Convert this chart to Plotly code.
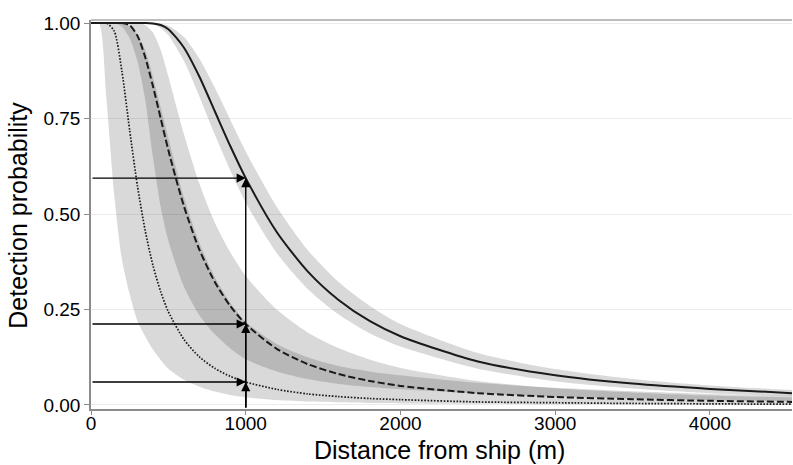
import plotly.graph_objects as go

# distance grid (m) used for every series
distance = [0, 50, 100, 150, 200, 250, 300, 350, 400, 450, 500, 600, 700, 800,
            900, 1000, 1200, 1400, 1600, 1800, 2000, 2500, 3000, 3500, 4000, 4530]

# solid curve + band
p_solid = [1, 1, 1, 1, 1, 1, 1, 1.0, 0.999, 0.995, 0.984, 0.936, 0.860, 0.769,
           0.678, 0.594, 0.453, 0.350, 0.275, 0.220, 0.180, 0.114, 0.078, 0.056, 0.042, 0.031]
lo_solid = [1, 1, 1, 1, 1, 1, 1, 0.999, 0.996, 0.987, 0.968, 0.901, 0.808, 0.708,
            0.614, 0.530, 0.398, 0.304, 0.237, 0.188, 0.153, 0.095, 0.062, 0.043, 0.031, 0.023]
hi_solid = [1, 1, 1, 1, 1, 1, 1, 1, 1.0, 0.998, 0.993, 0.964, 0.907, 0.831,
            0.747, 0.664, 0.519, 0.406, 0.322, 0.260, 0.212, 0.136, 0.094, 0.068, 0.051, 0.039]

# dashed curve + band
p_dash = [1, 1, 1, 1, 1.0, 0.994, 0.967, 0.911, 0.835, 0.751, 0.667, 0.521, 0.407, 0.322,
          0.259, 0.212, 0.147, 0.107, 0.081, 0.063, 0.050, 0.031, 0.021, 0.015, 0.011, 0.008]
lo_dash = [1, 1, 1, 1, 0.99, 0.96, 0.90, 0.80, 0.65, 0.52, 0.43, 0.31, 0.235, 0.185,
           0.148, 0.120, 0.088, 0.068, 0.055, 0.047, 0.041, 0.030, 0.022, 0.017, 0.013, 0.010]
hi_dash = [1, 1, 1, 1, 1, 1, 1.0, 0.995, 0.975, 0.93, 0.86, 0.71, 0.58, 0.478,
           0.400, 0.338, 0.250, 0.190, 0.149, 0.119, 0.097, 0.063, 0.044, 0.033, 0.025, 0.020]

# dotted curve + band
p_dot = [1, 1, 1.0, 0.979, 0.873, 0.719, 0.574, 0.457, 0.366, 0.297, 0.244, 0.172, 0.126, 0.096,
         0.075, 0.060, 0.041, 0.029, 0.022, 0.017, 0.014, 0.008, 0.006, 0.004, 0.003, 0.002]
lo_dot = [1, 1.0, 0.80, 0.55, 0.38, 0.29, 0.22, 0.18, 0.145, 0.118, 0.095, 0.066, 0.048, 0.035,
          0.026, 0.020, 0.013, 0.009, 0.007, 0.005, 0.004, 0.003, 0.002, 0.002, 0.001, 0.001]
hi_dot = [1, 1, 1, 1, 1.0, 0.99, 0.97, 0.93, 0.86, 0.78, 0.70, 0.545, 0.425, 0.335,
          0.268, 0.218, 0.160, 0.125, 0.102, 0.088, 0.078, 0.058, 0.045, 0.036, 0.029, 0.024]

ref_dist = 1000
ref_probs = [0.594, 0.212, 0.060]

X_MAX = 4530
Y_MIN, Y_MAX = -0.0105, 1.008
FONT = "Liberation Sans, Arial, sans-serif"
BAND = "rgba(0,0,0,0.15)"
INK = "#1a1a1a"

fig = go.Figure()

for lo, hi in [(lo_dot, hi_dot), (lo_dash, hi_dash), (lo_solid, hi_solid)]:
    fig.add_trace(go.Scatter(x=distance, y=lo, mode="lines", line=dict(width=0, shape="spline", smoothing=0.7),
                             hoverinfo="skip", showlegend=False))
    fig.add_trace(go.Scatter(x=distance, y=hi, mode="lines", fill="tonexty", fillcolor=BAND,
                             line=dict(width=0, shape="spline", smoothing=0.7),
                             hoverinfo="skip", showlegend=False))

for ys, dash, w in [(p_dot, "1.6px,1.6px", 1.7), (p_dash, "7px,3px", 2.0), (p_solid, "solid", 2.0)]:
    fig.add_trace(go.Scatter(x=distance, y=ys, mode="lines",
                             line=dict(color=INK, width=w, dash=dash, shape="spline", smoothing=0.7),
                             showlegend=False))

# arrows from the axes to each curve at 1000 m
for p in ref_probs:
    fig.add_annotation(x=ref_dist, y=p, ax=0, ay=p, xref="x", yref="y", axref="x", ayref="y",
                       text="", showarrow=True, arrowhead=2, arrowsize=1.3, arrowwidth=1.4,
                       arrowcolor="black", standoff=0)
    fig.add_annotation(x=ref_dist, y=p, ax=ref_dist, ay=Y_MIN, xref="x", yref="y", axref="x", ayref="y",
                       text="", showarrow=True, arrowhead=2, arrowsize=1.3, arrowwidth=1.4,
                       arrowcolor="black", standoff=0)

# axis titles placed by hand
fig.add_annotation(text="Distance from ship (m)", xref="paper", yref="paper", x=0.497, y=-0.105,
                   xanchor="center", yanchor="middle", showarrow=False,
                   font=dict(size=25, color="black", family=FONT))
fig.add_annotation(text="Detection probability", xref="paper", yref="paper", x=-0.104, y=0.497,
                   xanchor="center", yanchor="middle", textangle=-90, showarrow=False,
                   font=dict(size=25, color="black", family=FONT))

# thin grey line along the top of the panel
fig.add_shape(type="line", xref="paper", yref="paper", x0=0, x1=1, y0=1, y1=1,
              line=dict(color="#a8a8a8", width=1.5))

fig.update_xaxes(range=[0, X_MAX], tickvals=[0, 1000, 2000, 3000, 4000], automargin=False,
                 showgrid=False, zeroline=False, showline=True, linecolor="#8c8c8c", linewidth=1.5,
                 ticks="outside", ticklen=4, tickcolor="#8c8c8c", tickwidth=1.2, ticklabelstandoff=-8,
                 tickfont=dict(size=19, color="black", family=FONT))
fig.update_yaxes(range=[Y_MIN, Y_MAX], tickvals=[0, 0.25, 0.5, 0.75, 1.0], automargin=False,
                 ticktext=["0.00", "0.25", "0.50", "0.75", "1.00"],
                 showgrid=True, gridcolor="#ebebeb", gridwidth=1.2, zeroline=False,
                 showline=True, linecolor="#8c8c8c", linewidth=1.5,
                 ticks="outside", ticklen=5, tickcolor="#8c8c8c", tickwidth=1.2,
                 tickfont=dict(size=19, color="black", family=FONT))

fig.update_layout(width=793, height=465, margin=dict(l=91, r=1, t=20, b=56),
                  paper_bgcolor="white", plot_bgcolor="white", showlegend=False)

# drop the default page margin so the fixed-size figure sits at the window's corner
fig.write_html("out.html", config={"displayModeBar": False},
               post_script="document.body.style.margin='0';document.body.style.overflow='hidden';")
